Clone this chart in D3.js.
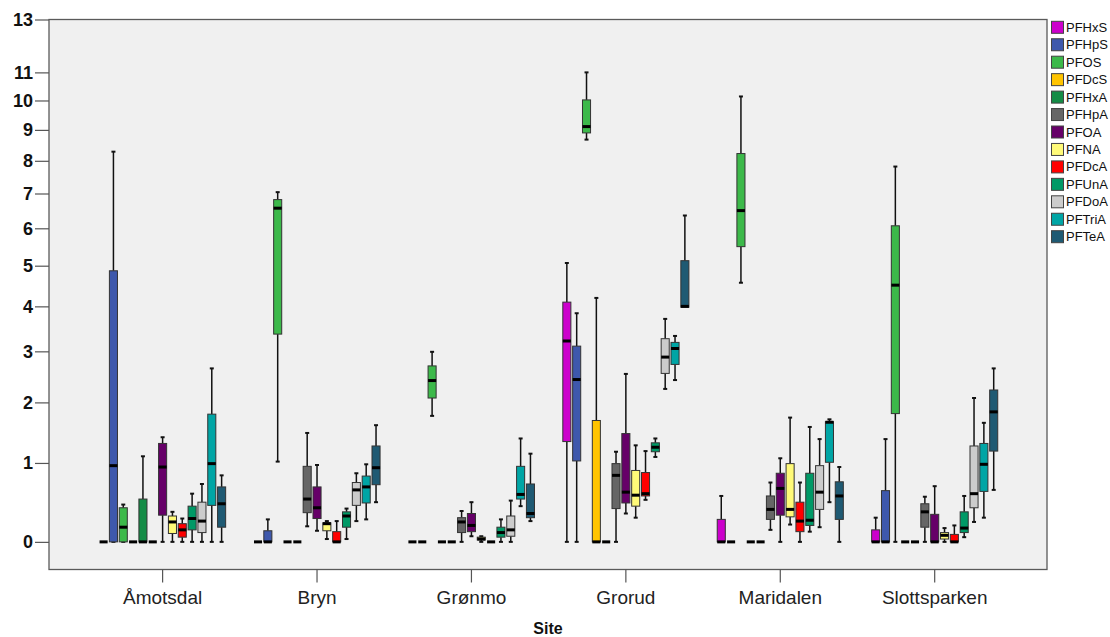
<!DOCTYPE html>
<html>
<head>
<meta charset="utf-8">
<script src="https://cdn.jsdelivr.net/npm/d3@7"></script>
<style>
  html, body { margin: 0; padding: 0; background: #ffffff; }
  svg { display: block; font-family: "Liberation Sans", Arial, sans-serif; }
</style>
</head>
<body>
<svg id="chart" width="1110" height="637"></svg>
<script>
// Sites along the x axis and compounds drawn side by side in each site
const sites = ["Åmotsdal", "Bryn", "Grønmo", "Grorud", "Maridalen", "Slottsparken"];
const compounds = ["PFHxS", "PFHpS", "PFOS", "PFDcS", "PFHxA", "PFHpA", "PFOA",
                   "PFNA", "PFDcA", "PFUnA", "PFDoA", "PFTriA", "PFTeA"];
const colors = ["#cc00cc", "#3e58ac", "#3cb94a", "#ffc400", "#148c46", "#666666", "#660068",
                "#fffa78", "#ff0000", "#009966", "#cccccc", "#00a5a5", "#1f5a73"];
const yTicks = [0, 1, 2, 3, 4, 5, 6, 7, 8, 9, 10, 11, 13];

// Box statistics per compound: [lower whisker, Q1, median, Q3, upper whisker]
const amotsdal = [
  [0, 0, 0, 0, 0],
  [0, 0, 0.96, 4.87, 8.29],
  [0, 0, 0.16, 0.39, 0.43],
  [0, 0, 0, 0, 0],
  [0, 0, 0, 0.50, 1.10],
  [0, 0, 0, 0, 0],
  [0, 0.30, 0.94, 1.30, 1.40],
  [0, 0.09, 0.22, 0.29, 0.34],
  [0, 0.05, 0.13, 0.20, 0.26],
  [0, 0.13, 0.26, 0.41, 0.57],
  [0, 0.10, 0.23, 0.46, 0.70],
  [0, 0.42, 0.99, 1.79, 2.65],
  [0, 0.16, 0.44, 0.66, 0.82]
];
const bryn = [
  [0, 0, 0, 0, 0],
  [0, 0, 0, 0.12, 0.25],
  [1.02, 3.37, 6.57, 6.82, 7.04],
  [0, 0, 0, 0, 0],
  [0, 0, 0, 0, 0],
  [0.17, 0.33, 0.50, 0.95, 1.47],
  [0.12, 0.26, 0.39, 0.66, 0.97],
  [0.03, 0.12, 0.20, 0.21, 0.23],
  [0, 0, 0, 0.11, 0.23],
  [0.03, 0.16, 0.29, 0.34, 0.38],
  [0.23, 0.42, 0.62, 0.72, 0.85],
  [0.25, 0.45, 0.66, 0.81, 0.98],
  [0.46, 0.69, 0.93, 1.26, 1.60]
];
const gronmo = [
  [0, 0, 0, 0, 0],
  [0, 0, 0, 0, 0],
  [1.76, 2.08, 2.41, 2.70, 2.99],
  [0, 0, 0, 0, 0],
  [0, 0, 0, 0, 0],
  [0, 0.10, 0.22, 0.27, 0.35],
  [0.06, 0.11, 0.18, 0.32, 0.46],
  [0, 0.02, 0.03, 0.05, 0.06],
  [0, 0, 0, 0, 0],
  [0, 0.05, 0.10, 0.16, 0.25],
  [0, 0.06, 0.13, 0.29, 0.48],
  [0.41, 0.50, 0.56, 0.95, 1.38],
  [0.23, 0.27, 0.32, 0.70, 1.14]
];
const grorud = [
  [0, 1.33, 3.22, 4.10, 5.07],
  [0, 1.03, 2.43, 3.11, 3.84],
  [8.68, 8.90, 9.11, 10.02, 11.0],
  [0, 0, 0, 1.68, 4.20],
  [0, 0, 0, 0, 0],
  [0, 0.38, 0.82, 0.99, 1.17],
  [0.32, 0.45, 0.59, 1.46, 2.54],
  [0.27, 0.41, 0.55, 0.89, 1.27],
  [0.49, 0.54, 0.57, 0.86, 1.18],
  [1.09, 1.17, 1.24, 1.31, 1.38],
  [2.25, 2.55, 2.88, 3.27, 3.71],
  [2.42, 2.73, 3.06, 3.19, 3.33],
  [3.98, 3.98, 4.00, 5.13, 6.36]
];
const maridalen = [
  [0, 0, 0, 0.25, 0.54],
  [0, 0, 0, 0, 0],
  [4.57, 5.50, 6.50, 8.23, 10.14],
  [0, 0, 0, 0, 0],
  [0, 0, 0, 0, 0],
  [0.13, 0.25, 0.37, 0.54, 0.72],
  [0, 0.30, 0.64, 0.85, 1.07],
  [0.19, 0.28, 0.37, 0.99, 1.73],
  [0, 0.11, 0.23, 0.46, 0.72],
  [0.11, 0.18, 0.24, 0.85, 1.57],
  [0.16, 0.37, 0.59, 0.96, 1.37],
  [0.46, 1.01, 1.65, 1.66, 1.70],
  [0, 0.25, 0.54, 0.73, 0.94]
];
const slottsparken = [
  [0, 0, 0, 0.13, 0.27],
  [0, 0, 0, 0.61, 1.37],
  [0, 1.80, 4.51, 6.07, 7.82],
  [0, 0, 0, 0, 0],
  [0, 0, 0, 0, 0],
  [0, 0.16, 0.34, 0.44, 0.53],
  [0, 0, 0, 0.31, 0.67],
  [0, 0.03, 0.07, 0.10, 0.15],
  [0, 0, 0, 0.08, 0.18],
  [0.05, 0.10, 0.15, 0.34, 0.54],
  [0.22, 0.39, 0.57, 1.26, 2.08],
  [0.27, 0.60, 0.98, 1.30, 1.64],
  [0.62, 1.18, 1.83, 2.23, 2.65]
];
const siteStats = [amotsdal, bryn, gronmo, grorud, maridalen, slottsparken];

// Layout
const plot = { left: 49, right: 1047, top: 19.5, bottom: 569.5 };
const svg = d3.select("#chart");

// Square-root scale on (value + 1), so 0 stays finite and small values spread out
const OFFSET = 1;
const yS = d3.scaleSqrt().domain([-0.269 + OFFSET, 13 + OFFSET]).range([plot.bottom, plot.top]);
const y = v => yS(v + OFFSET);

const x0 = d3.scaleBand().domain(sites).range([85.4, 1011.9]).paddingInner(0).paddingOuter(0);
const groupW = x0.bandwidth() * 0.828;
const x1 = d3.scaleBand().domain(compounds).range([-groupW / 2, groupW / 2]);
const boxW = x1.bandwidth() * 0.82;
const capW = 4;

// Plot area
svg.append("rect")
  .attr("x", plot.left).attr("y", plot.top)
  .attr("width", plot.right - plot.left).attr("height", plot.bottom - plot.top)
  .attr("fill", "#f0f0f0").attr("stroke", "#5a5a5a").attr("stroke-width", 1.3);

// Y axis
const yAxis = d3.axisLeft(yS)
  .tickValues(yTicks.map(t => t + OFFSET))
  .tickFormat(d => d3.format("d")(Math.round(d - OFFSET)))
  .tickSize(14).tickPadding(2);
const gy = svg.append("g").attr("transform", `translate(${plot.left},0)`).call(yAxis);
gy.select(".domain").remove();
gy.selectAll(".tick line").attr("stroke", "#555").attr("stroke-width", 1.2);
gy.selectAll(".tick text")
  .attr("fill", "#111").attr("font-size", 18).attr("font-weight", "bold")
  .attr("font-family", "'Liberation Sans', Arial, sans-serif");

// X axis
const xAxis = d3.axisBottom(x0).tickSize(13).tickPadding(8);
const gx = svg.append("g").attr("transform", `translate(0,${plot.bottom})`).call(xAxis);
gx.select(".domain").remove();
gx.selectAll(".tick line").attr("stroke", "#555").attr("stroke-width", 1.2);
gx.selectAll(".tick text")
  .attr("fill", "#222").attr("font-size", 19)
  .attr("font-family", "'Liberation Sans', Arial, sans-serif");

svg.append("text")
  .attr("x", (plot.left + plot.right) / 2).attr("y", 634)
  .attr("text-anchor", "middle")
  .attr("font-size", 16).attr("font-weight", "bold").attr("fill", "#111")
  .text("Site");

// Boxes
const flat = [];
sites.forEach((s, si) => {
  compounds.forEach((c, ci) => {
    const [lo, q1, med, q3, hi] = siteStats[si][ci];
    flat.push({ site: s, comp: c, color: colors[ci], lo, q1, med, q3, hi,
                cx: x0(s) + x0.bandwidth() / 2 + x1(c) + x1.bandwidth() / 2 });
  });
});

const g = svg.append("g");
const box = g.selectAll("g.box").data(flat).join("g").attr("class", "box");

// whiskers
box.append("line")
  .attr("x1", d => d.cx).attr("x2", d => d.cx)
  .attr("y1", d => y(d.q3)).attr("y2", d => y(d.hi))
  .attr("stroke", "#111").attr("stroke-width", 1.5);
box.append("line")
  .attr("x1", d => d.cx).attr("x2", d => d.cx)
  .attr("y1", d => y(d.q1)).attr("y2", d => y(d.lo))
  .attr("stroke", "#111").attr("stroke-width", 1.5);
box.filter(d => d.hi > d.q3).append("line")
  .attr("x1", d => d.cx - capW / 2).attr("x2", d => d.cx + capW / 2)
  .attr("y1", d => y(d.hi)).attr("y2", d => y(d.hi))
  .attr("stroke", "#111").attr("stroke-width", 2);
box.filter(d => d.lo < d.q1 || (d.lo === 0 && d.hi > 0)).append("line")
  .attr("x1", d => d.cx - capW / 2).attr("x2", d => d.cx + capW / 2)
  .attr("y1", d => y(d.lo)).attr("y2", d => y(d.lo))
  .attr("stroke", "#111").attr("stroke-width", 2);

// box body
box.append("rect")
  .attr("x", d => d.cx - boxW / 2).attr("width", boxW)
  .attr("y", d => y(d.q3)).attr("height", d => Math.max(0, y(d.q1) - y(d.q3)))
  .attr("fill", d => d.color).attr("stroke", "#333").attr("stroke-width", 1);

// median
box.append("line")
  .attr("x1", d => d.cx - boxW / 2).attr("x2", d => d.cx + boxW / 2)
  .attr("y1", d => y(d.med)).attr("y2", d => y(d.med))
  .attr("stroke", "#000").attr("stroke-width", 3);

// Legend
const legend = svg.append("g").attr("transform", "translate(1051,0)");
const item = legend.selectAll("g").data(compounds).join("g")
  .attr("transform", (d, i) => `translate(0,${27.3 + i * 17.45})`);
item.append("rect")
  .attr("x", 0.5).attr("y", -6).attr("width", 12).attr("height", 12)
  .attr("fill", (d, i) => colors[i]).attr("stroke", "#444").attr("stroke-width", 1);
item.append("text")
  .attr("x", 15).attr("y", 0).attr("dy", "0.35em")
  .attr("font-size", 13).attr("fill", "#111")
  .text(d => d);
</script>
</body>
</html>
